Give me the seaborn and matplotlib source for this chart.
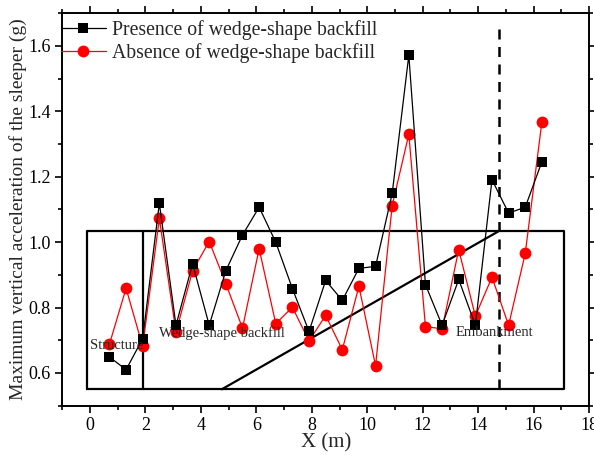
import matplotlib
matplotlib.use("Agg")
import matplotlib.pyplot as plt
import seaborn as sns
import pandas as pd
import numpy as np
from matplotlib.ticker import MultipleLocator

x_pos = [0.7, 1.3, 1.9, 2.5, 3.1, 3.7, 4.3, 4.9, 5.5, 6.1, 6.7, 7.3, 7.9, 8.5,
         9.1, 9.7, 10.3, 10.9, 11.5, 12.1, 12.7, 13.3, 13.9, 14.5, 15.1, 15.7, 16.3]
presence = [0.649, 0.610, 0.705, 1.119, 0.746, 0.934, 0.746, 0.913, 1.022, 1.107,
            1.000, 0.858, 0.727, 0.883, 0.822, 0.920, 0.926, 1.149, 1.572, 0.870,
            0.746, 0.886, 0.746, 1.191, 1.089, 1.107, 1.246]
absence = [0.688, 0.859, 0.681, 1.073, 0.725, 0.913, 1.002, 0.873, 0.737, 0.980,
           0.751, 0.801, 0.698, 0.776, 0.671, 0.865, 0.622, 1.112, 1.330, 0.742,
           0.735, 0.977, 0.774, 0.893, 0.746, 0.966, 1.368]
series_names = ["Presence of wedge-shape backfill", "Absence of wedge-shape backfill"]
region_labels = ["Structure", "Wedge-shape backfill", "Embankment"]

sns.set_style("ticks")
plt.rcParams['font.family'] = ['Liberation Serif', 'DejaVu Serif']

fig = plt.figure(figsize=(5.94, 4.57), dpi=100)
ax = fig.add_axes([0.1049, 0.1123, 0.8867, 0.8586])

df = pd.DataFrame({"x": x_pos * 2,
                   "y": presence + absence,
                   "series": [series_names[0]] * len(x_pos) + [series_names[1]] * len(x_pos)})

sns.lineplot(data=df[df.series == series_names[0]], x="x", y="y", ax=ax,
             color="black", marker="s", markersize=7.5, markeredgewidth=0,
             linewidth=0.9, label=series_names[0], zorder=4)
sns.lineplot(data=df[df.series == series_names[1]], x="x", y="y", ax=ax,
             color="#ff0000", marker="o", markersize=8.5, markeredgewidth=0,
             linewidth=0.9, label=series_names[1], zorder=3)

# schematic box
lw_box = 1.6
ax.plot([-0.1, 17.1, 17.1, -0.1, -0.1], [0.55, 0.55, 1.035, 1.035, 0.55],
        color="black", lw=lw_box, zorder=2)
ax.plot([1.9, 1.9], [0.55, 1.035], color="black", lw=lw_box, zorder=2)
ax.plot([4.75, 14.77], [0.55, 1.035], color="black", lw=lw_box, zorder=2)
ax.plot([14.77, 14.77], [0.55, 1.66], color="black", lw=1.8, ls=(0, (4, 3)), zorder=2)

ax.text(0.0, 0.685, region_labels[0], fontsize=10.5, va="center", ha="left", zorder=5)
ax.text(2.49, 0.722, region_labels[1], fontsize=10.5, va="center", ha="left", zorder=5)
ax.text(13.2, 0.725, region_labels[2], fontsize=10.5, va="center", ha="left", zorder=5)

ax.set_xlim(-1, 18)
ax.set_ylim(0.5, 1.7)
ax.xaxis.set_major_locator(MultipleLocator(2))
ax.xaxis.set_minor_locator(MultipleLocator(1))
ax.yaxis.set_major_locator(MultipleLocator(0.2))
ax.yaxis.set_minor_locator(MultipleLocator(0.1))
ax.set_xticks(np.arange(0, 19, 2))
ax.set_yticks(np.round(np.arange(0.6, 1.61, 0.2), 1))
ax.tick_params(which="both", direction="out", top=True, right=True,
               labeltop=False, labelright=False, width=1.2, colors="black", labelsize=13)
ax.tick_params(which="major", length=5)
ax.tick_params(which="minor", length=3)
for s in ax.spines.values():
    s.set_linewidth(1.4)
    s.set_color("black")

ax.set_xlabel("X (m)", fontsize=15, labelpad=-1)
ax.set_ylabel("Maximum vertical acceleration of the sleeper (g)", fontsize=14, labelpad=0.5)

leg = ax.legend(loc="upper left", bbox_to_anchor=(-0.022, 1.008), frameon=False, fontsize=14.2,
                handlelength=2.3, handletextpad=0.3, borderaxespad=0.1, labelspacing=0.15)

fig.savefig("out.png", dpi=100)
